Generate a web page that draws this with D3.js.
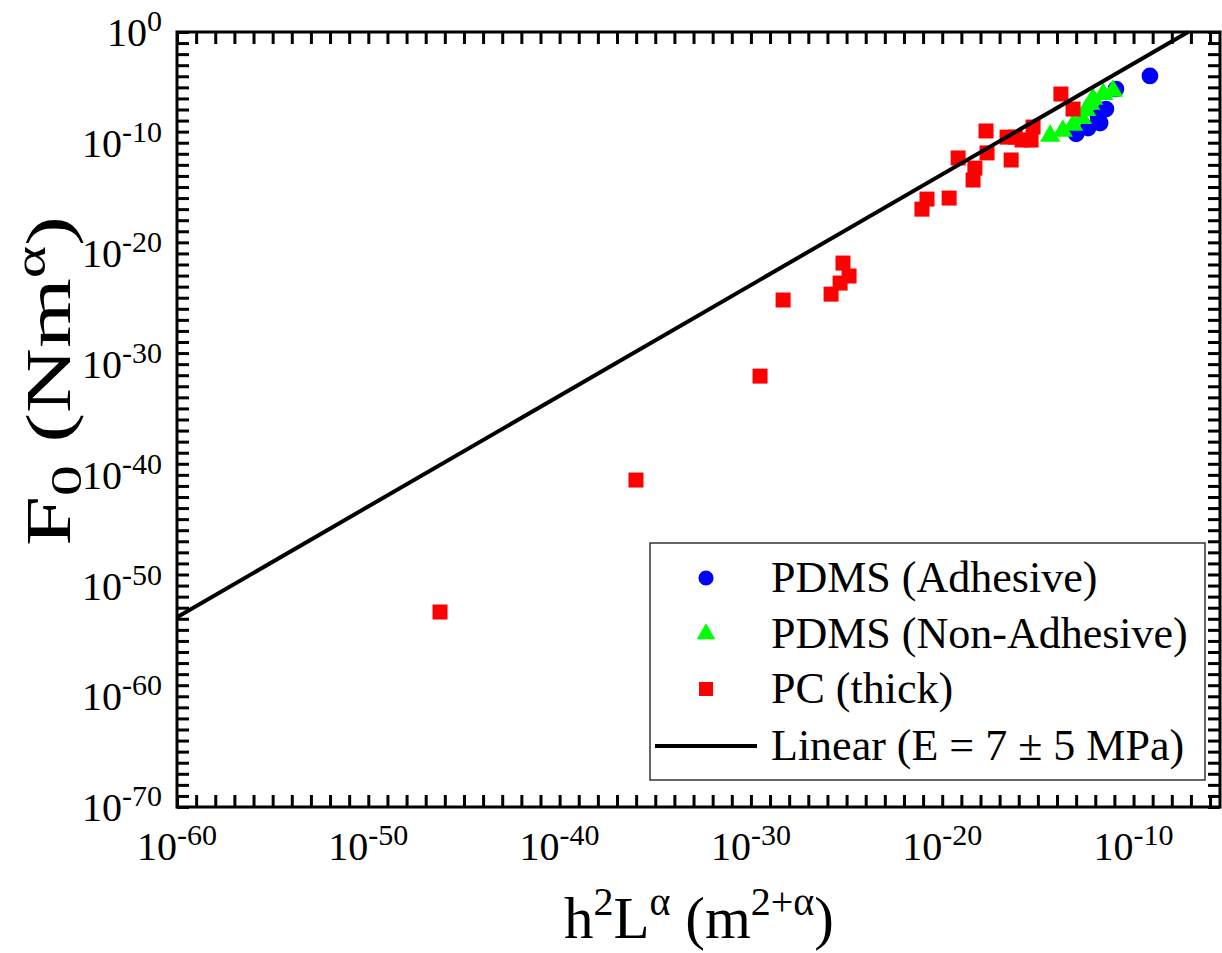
<!DOCTYPE html>
<html>
<head>
<meta charset="utf-8">
<script src="https://cdn.jsdelivr.net/npm/d3@7"></script>
<style>
  html, body { margin: 0; padding: 0; background: #fff; }
  text { font-family: "Liberation Serif", "Times New Roman", serif; fill: #000; }
</style>
</head>
<body>
<svg id="chart" width="1222" height="953"></svg>
<script>
// ---------------- data ----------------
const adhesiveX = [7.2e-10, 1.2e-11, 3.6e-12, 1.4e-12, 1.8e-12, 4.2e-13, 1.0e-13];
const adhesiveY = [1.07e-4, 7.1e-6, 1.1e-7, 2.1e-8, 6.0e-9, 2.1e-9, 6.2e-10];

const nonAdhesiveX = [4.4e-15, 2.0e-14, 6.9e-14, 2.0e-13, 3.3e-13, 5.4e-13, 7.6e-13, 2.6e-12, 8.5e-12];
const nonAdhesiveY = [4.1e-10, 1.15e-9, 4.0e-9, 1.7e-8, 8.9e-8, 3.2e-7, 8.9e-7, 2.5e-6, 4.7e-6];

const pcX = [5.6e-47, 9.8e-37, 3.0e-30, 4.8e-29, 1.55e-26, 4.6e-26, 1.35e-25, 6.5e-26,
             8.7e-22, 1.6e-21, 2.3e-20, 4.1e-19, 5.1e-19, 6.8e-20, 2.2e-18, 1.95e-18,
             2.45e-17, 6.5e-17, 4.0e-17, 1.5e-16, 4.4e-16, 5.6e-16, 1.6e-14, 6.9e-14];
const pcY = [4.1e-53, 3.4e-41, 8.3e-32, 6.2e-25, 2.1e-24, 2.1e-23, 9.1e-23, 1.35e-21,
             1.0e-16, 8.1e-16, 1.0e-15, 4.3e-14, 5.1e-13, 4.2e-12, 1.2e-11, 1.15e-9,
             3.2e-10, 3.2e-10, 2.75e-12, 1.75e-10, 1.75e-10, 2.6e-9, 2.5e-6, 1.1e-7];

// linear fit F0 = k * x
const fitSlope = 1.4e7;
const fitX = [1e-60, 7.1e-8];

const xTickExponents = [-60, -50, -40, -30, -20, -10];
const yTickExponents = [0, -10, -20, -30, -40, -50, -60, -70];

const legendLabels = ["PDMS (Adhesive)", "PDMS (Non-Adhesive)", "PC (thick)", "Linear (E = 7 \u00B1 5 MPa)"];

// ---------------- layout ----------------
const svg = d3.select("#chart");
const L = 177, R = 1220, T = 32, B = 807;

const x = d3.scaleLog().domain([1e-60, Math.pow(10, -5.48)]).range([L, R]);
const y = d3.scaleLog().domain([1e-70, 1]).range([B, T]);

const xDecades = d3.range(-60, -5).map(e => Math.pow(10, e));
const yDecades = d3.range(-70, 1).map(e => Math.pow(10, e));

const tickLen = 12;
const axisStyle = g => {
  g.select(".domain").remove();
  g.selectAll(".tick line").attr("stroke", "#000").attr("stroke-width", 3);
};

svg.append("g").attr("transform", `translate(0,${B})`)
  .call(d3.axisBottom(x).tickValues(xDecades).tickSizeInner(-tickLen).tickSizeOuter(0).tickFormat(() => ""))
  .call(axisStyle);
svg.append("g").attr("transform", `translate(0,${T})`)
  .call(d3.axisTop(x).tickValues(xDecades).tickSizeInner(-tickLen).tickSizeOuter(0).tickFormat(() => ""))
  .call(axisStyle);
svg.append("g").attr("transform", `translate(${L},0)`)
  .call(d3.axisLeft(y).tickValues(yDecades).tickSizeInner(-tickLen).tickSizeOuter(0).tickFormat(() => ""))
  .call(axisStyle);
svg.append("g").attr("transform", `translate(${R},0)`)
  .call(d3.axisRight(y).tickValues(yDecades).tickSizeInner(-tickLen).tickSizeOuter(0).tickFormat(() => ""))
  .call(axisStyle);

svg.append("rect").attr("x", L).attr("y", T).attr("width", R - L).attr("height", B - T)
  .attr("fill", "none").attr("stroke", "#000").attr("stroke-width", 3);

// tick labels
const xLab = svg.append("g");
xTickExponents.forEach(e => {
  const t = xLab.append("text").attr("x", x(Math.pow(10, e))).attr("y", 860)
    .attr("text-anchor", "middle").style("font-size", "40px");
  t.append("tspan").text("10");
  t.append("tspan").attr("dy", -15).style("font-size", "30px").text(String(e));
});
const yLab = svg.append("g");
yTickExponents.forEach(e => {
  const t = yLab.append("text").attr("x", 162).attr("y", y(Math.pow(10, e)) + 14)
    .attr("text-anchor", "end").style("font-size", "40px");
  t.append("tspan").text("10");
  t.append("tspan").attr("dy", -15).style("font-size", "30px").text(String(e));
});

// axis titles
const xt = svg.append("text").attr("x", 699).attr("y", 938).attr("text-anchor", "middle").style("font-size", "59px");
xt.append("tspan").text("h");
xt.append("tspan").attr("dy", -23).style("font-size", "40px").text("2");
xt.append("tspan").attr("dy", 23).text("L");
xt.append("tspan").attr("dy", -23).style("font-size", "40px").text("\u03B1");
xt.append("tspan").attr("dy", 23).text(" (m");
xt.append("tspan").attr("dy", -23).style("font-size", "40px").text("2+\u03B1");
xt.append("tspan").attr("dy", 23).text(")");

const yt = svg.append("text").attr("transform", "translate(70,381) rotate(-90)")
  .attr("text-anchor", "middle").style("font-size", "64px")
  .attr("textLength", 330).attr("lengthAdjust", "spacingAndGlyphs");
yt.append("tspan").text("F");
yt.append("tspan").attr("dy", 11).style("font-size", "44px").text("0");
yt.append("tspan").attr("dy", -11).text(" (Nm");
yt.append("tspan").attr("dy", -25).style("font-size", "44px").text("\u03B1");
yt.append("tspan").attr("dy", 25).text(")");

// markers
const plot = svg.append("g");
const circle = d3.symbol().type(d3.symbolCircle).size(220);
const tri = d3.symbol().type(d3.symbolTriangle).size(180);
const sq = d3.symbol().type(d3.symbolSquare).size(225);

plot.selectAll(".adh").data(d3.range(adhesiveX.length)).join("path")
  .attr("d", circle).attr("fill", "#0000ff")
  .attr("transform", i => `translate(${x(adhesiveX[i])},${y(adhesiveY[i])})`);
plot.selectAll(".non").data(d3.range(nonAdhesiveX.length)).join("path")
  .attr("d", tri).attr("fill", "#00ff00")
  .attr("transform", i => `translate(${x(nonAdhesiveX[i])},${y(nonAdhesiveY[i])})`);
plot.selectAll(".pc").data(d3.range(pcX.length)).join("path")
  .attr("d", sq).attr("fill", "#ff0000")
  .attr("transform", i => `translate(${x(pcX[i])},${y(pcY[i])})`);

// fit line
svg.append("path")
  .datum(fitX.map(v => [v, v * fitSlope]))
  .attr("d", d3.line().x(d => x(d[0])).y(d => y(d[1])))
  .attr("stroke", "#000").attr("stroke-width", 4).attr("fill", "none");

// legend
const lg = svg.append("g");
lg.append("rect").attr("x", 650).attr("y", 543).attr("width", 555).attr("height", 237)
  .attr("fill", "#fff").attr("stroke", "#333").attr("stroke-width", 1.5);
const rowsY = [578, 634, 689, 746];
const symbols = [
  {d: d3.symbol().type(d3.symbolCircle).size(180)(), fill: "#0000ff"},
  {d: d3.symbol().type(d3.symbolTriangle).size(150)(), fill: "#00ff00"},
  {d: d3.symbol().type(d3.symbolSquare).size(196)(), fill: "#ff0000"}
];
symbols.forEach((s, i) => {
  lg.append("path").attr("d", s.d).attr("fill", s.fill)
    .attr("transform", `translate(706,${rowsY[i]})`);
});
lg.append("line").attr("x1", 655).attr("x2", 757).attr("y1", rowsY[3]).attr("y2", rowsY[3])
  .attr("stroke", "#000").attr("stroke-width", 4);
legendLabels.forEach((t, i) => {
  lg.append("text").attr("x", 771).attr("y", rowsY[i] + 14).style("font-size", "44px").text(t);
});
</script>
</body>
</html>
